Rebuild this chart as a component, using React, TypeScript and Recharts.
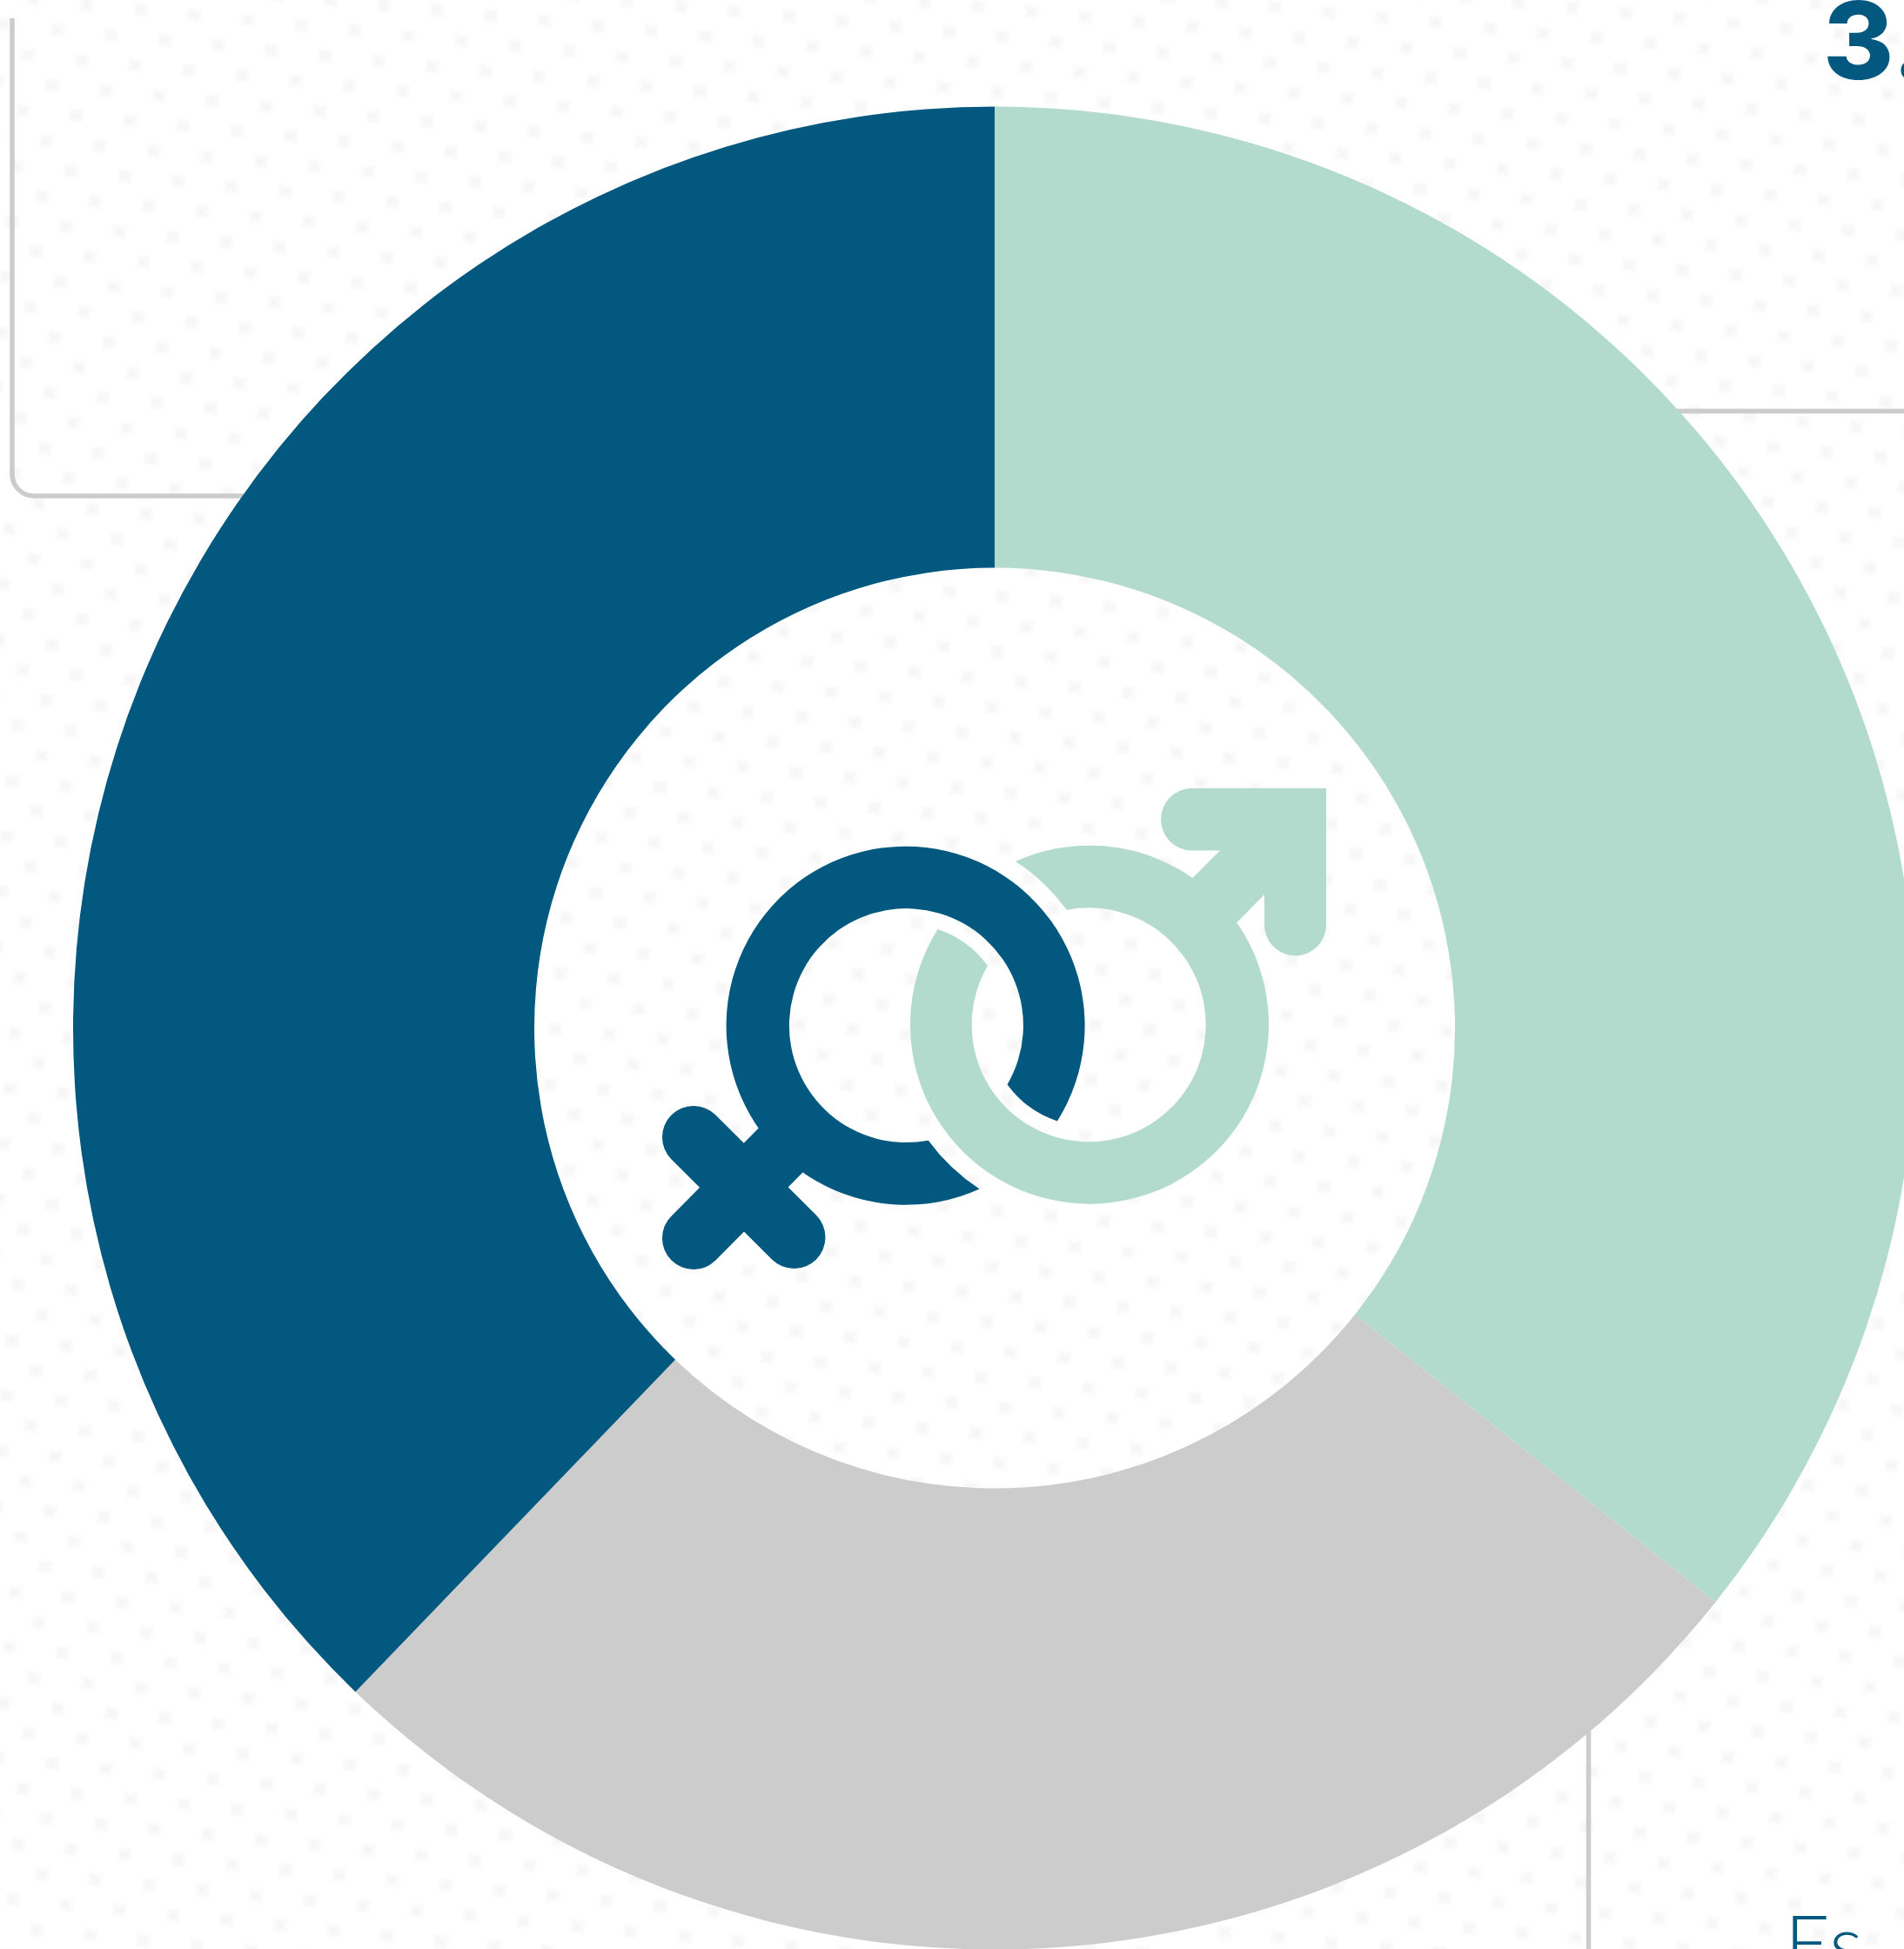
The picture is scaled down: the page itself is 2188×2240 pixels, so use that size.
import { PieChart, Pie, Cell } from "recharts"

const WIDTH = 2188
const HEIGHT = 2240

const categories = ["Hombres", "Otros", "Mujeres"]
const shares = [35.7, 26.5, 37.8]
const sliceColors = ["#b3dbcd", "#cccccc", "#02587f"]

const BLUE = "#02587f"
const MINT = "#b3dbcd"
const LINE = "#cccccc"

const tableData = categories.map((name, i) => ({ name, value: shares[i] }))

// ring of the male sign, the female one is the same ring turned around the midpoint
const RING =
  "M1167 990 A206 206 0 1 1 1077.6 1068 A116 116 0 0 1 1135 1110 A134.5 134.5 0 1 0 1225.8 1045.7 A227 227 0 0 0 1167 990 Z"
const ARROW =
  "M1524 906 H1368 A35.8 35.8 0 0 0 1368 977.5 H1402 L1370.6 1009 L1340 1039.6 L1391 1090.6 L1421.6 1060 L1453 1028 V1063 A35.5 35.5 0 0 0 1524 1063 Z"

function Backdrop() {
  return (
    <svg width={WIDTH} height={HEIGHT} style={{ position: "absolute", left: 0, top: 0 }}>
      <defs>
        <filter id="soft" x="-20%" y="-20%" width="140%" height="140%">
          <feGaussianBlur stdDeviation={2.8} />
        </filter>
        <pattern
          id="dots"
          width={61.8}
          height={64}
          patternUnits="userSpaceOnUse"
          patternTransform="translate(52 17) rotate(5.5)"
        >
          <g filter="url(#soft)">
            <g stroke="#f5f5f5" strokeWidth={5}>
              <path d="M9 10 L22 22 M22 10 L9 22" />
              <path d="M40 42 L53 54 M53 42 L40 54" />
            </g>
            <circle cx={15.5} cy={16} r={5} fill="#f6f6f6" />
            <circle cx={46.5} cy={48} r={5} fill="#f6f6f6" />
          </g>
        </pattern>
      </defs>
      <rect width={WIDTH} height={HEIGHT} fill="#ffffff" />
      <rect width={WIDTH} height={HEIGHT} fill="url(#dots)" />
      <g fill="none" stroke={LINE} strokeWidth={5.5}>
        <path d="M14 21 V545 A25 25 0 0 0 39 570 H300" />
        <path d="M1900 472.5 H2188" />
        <path d="M1825.5 1980 V2240" />
      </g>
      <text x={2095} y={91} fontFamily="Inter" fontWeight={800} fontSize={124} fill={BLUE}>
        3.
      </text>
      <text x={2051} y={2266} fontFamily="Lato" fontWeight={300} fontSize={90} fill={BLUE}>
        Es
      </text>
    </svg>
  )
}

function GenderSigns() {
  return (
    <g>
      <path d={RING} fill={MINT} />
      <path d={ARROW} fill={MINT} />
      <path d={RING} fill={BLUE} transform="rotate(180 1146.3 1178.2)" />
      <g stroke={BLUE} strokeWidth={72} strokeLinecap="round">
        <line x1={797} y1={1307} x2={912.5} y2={1422} />
        <line x1={797} y1={1423} x2={914} y2={1305} />
      </g>
    </g>
  )
}

export default function App() {
  return (
    <div style={{ position: "absolute", left: 0, top: 0, width: WIDTH, height: HEIGHT, overflow: "hidden" }}>
      <Backdrop />
      <div style={{ position: "absolute", left: 0, top: 0 }}>
        <PieChart width={WIDTH} height={HEIGHT} margin={{ top: 0, right: 0, bottom: 0, left: 0 }}>
          <Pie
            data={tableData}
            dataKey="value"
            nameKey="name"
            cx={1143}
            cy={1181.6}
            innerRadius={529}
            outerRadius={1059}
            startAngle={90}
            endAngle={-270}
            stroke="none"
            isAnimationActive={false}
          >
            {tableData.map((entry, index) => (
              <Cell key={entry.name} fill={sliceColors[index]} />
            ))}
          </Pie>
          <GenderSigns />
        </PieChart>
      </div>
    </div>
  )
}
